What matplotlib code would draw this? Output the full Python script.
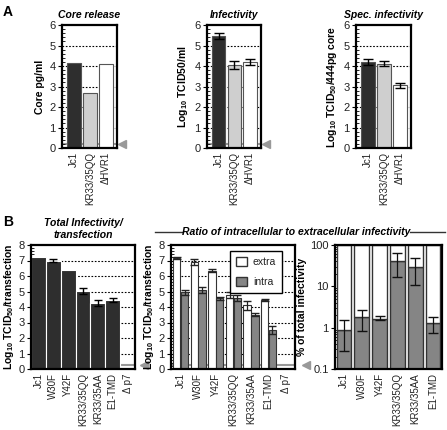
import numpy as np
import matplotlib
matplotlib.use('Agg')
import matplotlib.pyplot as plt
from matplotlib.ticker import MultipleLocator, FixedLocator, LogLocator, NullFormatter
from matplotlib.lines import Line2D
from matplotlib.patches import Patch

plt.rcParams['font.family'] = ['Liberation Sans', 'DejaVu Sans']
plt.rcParams['mathtext.fontset'] = 'custom'
plt.rcParams['mathtext.rm'] = 'Liberation Sans'
plt.rcParams['mathtext.bf'] = 'Liberation Sans:bold'

# ---- data ----
a_labels = ['Jc1', 'KR33/35QQ', '\u0394HVR1']
core_release = [4.15, 2.7, 4.1]
infectivity = [5.45, 4.05, 4.2]
infectivity_err = [0.15, 0.2, 0.15]
spec_inf = [4.2, 4.1, 3.05]
spec_inf_err = [0.15, 0.12, 0.12]

b_labels = ['Jc1', 'W30F', 'Y42F', 'KR33/35QQ', 'KR33/35AA', 'E1-TMD', '\u0394 p7']
total_inf = [7.2, 7.0, 6.4, 5.05, 4.25, 4.45, 0]
total_inf_err = [0.0, 0.1, 0.0, 0.2, 0.2, 0.1, 0]
extra = [7.15, 6.9, 6.35, 4.75, 4.1, 4.45, 0]
extra_err = [0.05, 0.2, 0.1, 0.2, 0.3, 0.05, 0]
intra = [4.95, 5.1, 4.55, 4.6, 3.5, 2.5, 0]
intra_err = [0.15, 0.2, 0.1, 0.2, 0.1, 0.25, 0]

c_labels = ['Jc1', 'W30F', 'Y42F', 'KR33/35QQ', 'KR33/35AA', 'E1-TMD']
pct_intra = [0.9, 1.8, 1.65, 40, 30, 1.3]
pct_lo = [0.27, 0.85, 1.5, 17, 11, 0.75]
pct_hi = [1.5, 2.7, 1.95, 65, 48, 1.8]

BLACK = '#2e2e2e'
LGRAY = '#cfcfcf'
MGRAY = '#858585'
TXT = '#222222'

W, H = 447, 430
fig = plt.figure(figsize=(W / 100, H / 100), dpi=100)

def box(l, r, t, b):
	return [l / W, 1 - b / H, (r - l) / W, (b - t) / H]

def style(ax, ymax):
	for s in ax.spines.values():
		s.set_linewidth(1.6)
	ax.set_ylim(0, ymax)
	ax.yaxis.set_major_locator(MultipleLocator(1))
	ax.yaxis.set_minor_locator(MultipleLocator(0.2))
	ax.tick_params(axis='y', which='major', direction='out', length=3, width=0.8, labelsize=8, labelcolor=TXT, pad=1.5)
	ax.tick_params(axis='y', which='minor', direction='in', length=2, width=0.6)
	ax.tick_params(axis='x', length=0, labelsize=7, labelcolor=TXT, rotation=90, pad=3)
	for y in range(1, ymax):
		ax.axhline(y, color='black', ls=(0, (1.5, 1.5)), lw=0.8, zorder=0)

def cutoff(ax, y, arrow=True):
	ax.axhline(y, color='#999999', lw=1.5, zorder=0.5)
	if arrow:
		ax.plot([1.09], [y], marker='<', color='#999999', ms=6, transform=ax.get_yaxis_transform(), clip_on=False)

# ---- A ----
xa = np.arange(3)
acolors = [BLACK, LGRAY, 'white']

ax1 = fig.add_axes(box(62, 117, 25, 148))
style(ax1, 6)
cutoff(ax1, 0.2)
ax1.bar(xa, core_release, width=0.85, color=acolors, edgecolor='#555555', lw=0.8, zorder=2)
ax1.set_xlim(-0.75, 2.7)
ax1.set_xticks(xa, a_labels)
ax1.set_ylabel('Core pg/ml', fontweight='bold', fontsize=7.5, labelpad=3)
ax1.set_title('Core release', fontweight='bold', style='italic', fontsize=7.5, pad=5)

ax2 = fig.add_axes(box(207, 261, 25, 148))
style(ax2, 6)
cutoff(ax2, 0.2)
ax2.bar(xa, infectivity, width=0.85, color=acolors, edgecolor='#555555', lw=0.8, zorder=2)
ax2.errorbar(xa, infectivity, yerr=infectivity_err, fmt='none', ecolor='black', capsize=3.5, lw=1, zorder=3)
ax2.set_xlim(-0.75, 2.7)
ax2.set_xticks(xa, a_labels)
ax2.set_ylabel(r'Log$_{\mathbf{10}}$ TCID50/ml', fontweight='bold', fontsize=7.5, labelpad=3)
ax2.set_title('Infectivity', fontweight='bold', style='italic', fontsize=7.5, pad=5)

ax3 = fig.add_axes(box(356, 411, 25, 148))
style(ax3, 6)
ax3.bar(xa, spec_inf, width=0.85, color=acolors, edgecolor='#555555', lw=0.8, zorder=2)
ax3.errorbar(xa, spec_inf, yerr=spec_inf_err, fmt='none', ecolor='black', capsize=3.5, lw=1, zorder=3)
ax3.set_xlim(-0.75, 2.7)
ax3.set_xticks(xa, a_labels)
ax3.set_ylabel(r'Log$_{\mathbf{10}}$ TCID$_{\mathbf{50}}$/444pg core', fontweight='bold', fontsize=7.5, labelpad=3)
ax3.set_title('Spec. infectivity', fontweight='bold', style='italic', fontsize=7.5, pad=5)

# ---- B ----
xb = np.arange(len(b_labels))

bx1 = fig.add_axes(box(31, 135, 245, 369))
style(bx1, 8)
cutoff(bx1, 0.25)
bx1.bar(xb, total_inf, width=1.0, color=BLACK, edgecolor='white', lw=0.8, zorder=2)
err_idx = [i for i, e in enumerate(total_inf_err) if e > 0]
bx1.errorbar(xb[err_idx], np.array(total_inf)[err_idx], yerr=np.array(total_inf_err)[err_idx],
	fmt='none', ecolor='black', capsize=3, lw=1, zorder=3)
bx1.set_xlim(-0.5, 6.5)
bx1.set_xticks(xb, b_labels)
bx1.set_ylabel(r'Log$_{\mathbf{10}}$ TCID$_{\mathbf{50}}$/transfection', fontweight='bold', fontsize=7.5, labelpad=2)
bx1.set_title('Total Infectivity/\ntransfection', fontweight='bold', style='italic', fontsize=7.5, pad=5, linespacing=1.3)

bx2 = fig.add_axes(box(171, 295, 245, 369))
style(bx2, 8)
cutoff(bx2, 0.25)
bw = 0.42
bx2.bar(xb - 0.22, extra, width=bw, color='white', edgecolor='#333333', lw=0.8, zorder=2)
bx2.bar(xb + 0.22, intra, width=bw, color=MGRAY, edgecolor='#333333', lw=0.8, zorder=2)
bx2.errorbar(xb[:6] - 0.22, extra[:6], yerr=extra_err[:6], fmt='none', ecolor='#222222', capsize=3, lw=0.9, zorder=3)
bx2.errorbar(xb[:6] + 0.22, intra[:6], yerr=intra_err[:6], fmt='none', ecolor='#222222', capsize=3, lw=0.9, zorder=3)
bx2.set_xlim(-0.55, 6.5)
bx2.set_xticks(xb, b_labels)
bx2.set_ylabel(r'Log$_{\mathbf{10}}$ TCID$_{\mathbf{50}}$/transfection', fontweight='bold', fontsize=7.5, labelpad=2)
handles = [Patch(facecolor='white', edgecolor='#333333', label='extra'),
	Patch(facecolor=MGRAY, edgecolor='#333333', label='intra')]
leg = bx2.legend(handles=handles, loc='upper right', bbox_to_anchor=(0.94, 0.995), fontsize=7.5,
	handlelength=1.0, handleheight=1.0, labelspacing=0.9, borderpad=0.6, handletextpad=0.6,
	fancybox=False, framealpha=1, edgecolor='black')
leg.get_frame().set_linewidth(1.0)
leg.set_zorder(5)
for t in leg.get_texts():
	t.set_color(TXT)

bx3 = fig.add_axes(box(335, 442, 245, 369))
xc = np.arange(len(c_labels))
bx3.set_yscale('log')
bx3.set_ylim(0.1, 100)
bx3.bar(xc, np.array(pct_intra) - 0.1, bottom=0.1, width=0.82, color=MGRAY, edgecolor='#333333', lw=1.0, zorder=2)
bx3.bar(xc, 100 - np.array(pct_intra), bottom=pct_intra, width=0.82, color='white', edgecolor='#333333', lw=1.0, zorder=2)
yerr = [np.array(pct_intra) - np.array(pct_lo), np.array(pct_hi) - np.array(pct_intra)]
bx3.errorbar(xc, pct_intra, yerr=yerr, fmt='none', ecolor='#111111', capsize=3.5, lw=0.9, zorder=3)
bx3.set_xlim(-0.5, 5.5)
bx3.set_xticks(xc, c_labels)
for s in bx3.spines.values():
	s.set_linewidth(1.6)
bx3.yaxis.set_major_locator(FixedLocator([0.1, 1, 10, 100]))
bx3.set_yticklabels(['0.1', '1', '10', '100'])
bx3.yaxis.set_minor_locator(LogLocator(base=10, subs=np.arange(2, 10)))
bx3.yaxis.set_minor_formatter(NullFormatter())
bx3.tick_params(axis='y', which='major', direction='out', length=3, width=0.8, labelsize=8, labelcolor=TXT, pad=1.5)
bx3.tick_params(axis='y', which='minor', direction='in', length=2, width=0.6)
bx3.tick_params(axis='x', length=0, labelsize=7, labelcolor=TXT, rotation=90, pad=3)
bx3.set_ylabel('% of total infectivity', fontweight='bold', fontsize=7.5, labelpad=2)

# header over B2/B3
yh = 1 - 232 / H
fig.text(296 / W, yh, 'Ratio of intracellular to extracellular infectivity', fontweight='bold',
	style='italic', fontsize=7.5, ha='center', va='center')
fig.add_artist(Line2D([155 / W, 183 / W], [yh, yh], color='#333333', lw=1))
fig.add_artist(Line2D([410 / W, 445 / W], [yh, yh], color='#333333', lw=1))

fig.text(3 / W, 1 - 12 / H, 'A', fontweight='bold', fontsize=10, va='center')
fig.text(3 / W, 1 - 222 / H, 'B', fontweight='bold', fontsize=10, va='center')

fig.savefig('out.png', dpi=100)
